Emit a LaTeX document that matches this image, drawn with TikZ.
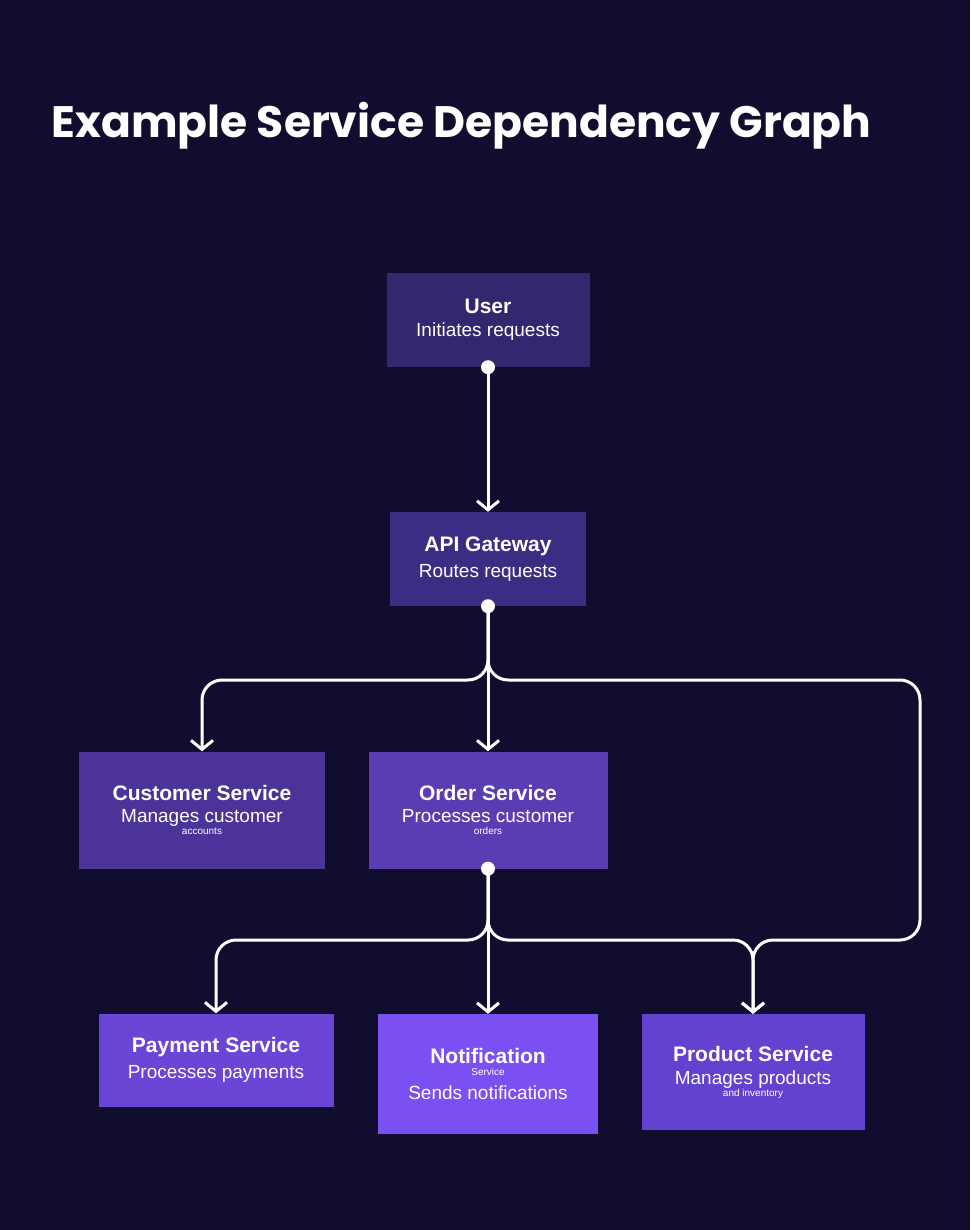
\documentclass[tikz,border=0pt]{standalone}
\usepackage{fontspec}
\setmainfont{Liberation Sans}
\newfontfamily\titlefont{Poppins}
\usetikzlibrary{arrows.meta}
\definecolor{bg}{HTML}{110D2E}
\definecolor{cA}{HTML}{35276F}
\definecolor{cB}{HTML}{3D2C84}
\definecolor{cC}{HTML}{4B3399}
\definecolor{cD}{HTML}{5A3DB2}
\definecolor{cE}{HTML}{6A45D6}
\definecolor{cF}{HTML}{7A50F2}
\definecolor{cG}{HTML}{6342CF}
\tikzset{
 box/.style={rectangle, inner sep=0pt, text=white, align=center},
 conn/.style={draw=white, line width=3pt, rounded corners=20pt, -{Straight Barb[length=9pt,width=22pt,line width=3pt]}},
 dotc/.style={fill=white, circle, inner sep=0pt, minimum size=14pt}
}
\newcommand{\myhd}{\fontsize{21}{27}\selectfont\bfseries}
\newcommand{\mysb}{\fontsize{19}{24}\selectfont\mdseries}
\begin{document}
\begin{tikzpicture}[x=1pt,y=-1pt]
\fill[bg] (0,0) rectangle (970,1230);
\useasboundingbox (0,0) rectangle (970,1230);
\node[anchor=west,text=white] (title) at (48,126) {\titlefont\fontsize{44}{50}\selectfont\bfseries Example Service Dependency Graph};
\node[box,fill=cA,minimum width=203pt,minimum height=94pt] (user) at (488,320) {\myhd User\\[8pt]\mysb Initiates requests};
\node[box,fill=cB,minimum width=196pt,minimum height=94pt] (api) at (488,559) {\myhd API Gateway\\[8pt]\mysb Routes requests};
\node[box,fill=cC,minimum width=246pt,minimum height=117pt] (cust) at (202,810) {\myhd Customer Service\\[8pt]\mysb Manages customer\\accounts};
\node[box,fill=cD,minimum width=239pt,minimum height=117pt] (order) at (488,810) {\myhd Order Service\\[8pt]\mysb Processes customer\\orders};
\node[box,fill=cE,minimum width=235pt,minimum height=93pt] (pay) at (216,1060) {\myhd Payment Service\\[8pt]\mysb Processes payments};
\node[box,fill=cF,minimum width=220pt,minimum height=120pt] (notif) at (488,1074) {\myhd Notification\\Service\\[10pt]\mysb Sends notifications};
\node[box,fill=cG,minimum width=223pt,minimum height=116pt] (prod) at (753,1072) {\myhd Product Service\\[8pt]\mysb Manages products\\and inventory};
\coordinate (a1) at (488,680); \coordinate (a2) at (202,680); \coordinate (a3) at (920,680); \coordinate (a4) at (920,940);
\coordinate (o1) at (488,940); \coordinate (o2) at (216,940); \coordinate (o3) at (753,940);
\draw[conn] (user.south) -- (api.north);
\draw[conn] (api.south) -- (a1) -- (a2) -- (cust.north);
\draw[conn] (api.south) -- (order.north);
\draw[conn] (api.south) -- (a1) -- (a3) -- (a4) -- (o3) -- (prod.north);
\draw[conn] (order.south) -- (o1) -- (o2) -- (pay.north);
\draw[conn] (order.south) -- (notif.north);
\draw[conn] (order.south) -- (o1) -- (o3) -- (prod.north);
\node[dotc] (d1) at (user.south) {};
\node[dotc] (d2) at (api.south) {};
\node[dotc] (d3) at (order.south) {};
\end{tikzpicture}
\end{document}
